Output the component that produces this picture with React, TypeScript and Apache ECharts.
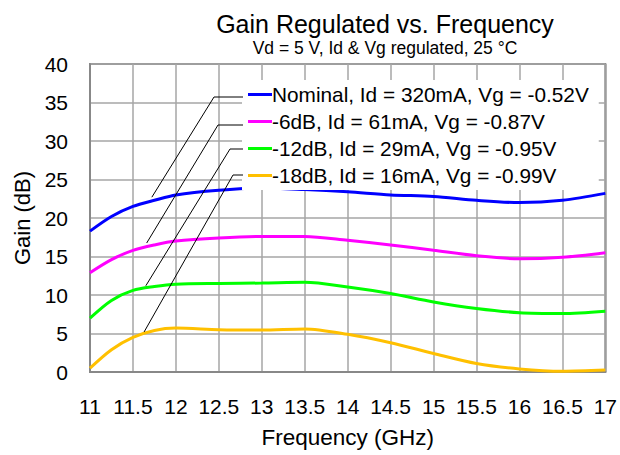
import React, { useEffect, useRef } from "react";
import * as echarts from "echarts";

const freqs = [11, 11.25, 11.5, 11.75, 12, 12.5, 13, 13.5, 14, 14.5, 15, 15.5, 16, 16.5, 17];
const nominal = [18.3, 20.2, 21.5, 22.3, 23.0, 23.6, 23.9, 23.7, 23.4, 23.0, 22.8, 22.3, 22.0, 22.3, 23.2];
const minus6 = [12.9, 14.6, 15.8, 16.5, 17.0, 17.4, 17.6, 17.6, 17.1, 16.5, 15.8, 15.1, 14.7, 14.9, 15.5];
const minus12 = [7.0, 9.3, 10.6, 11.1, 11.4, 11.5, 11.55, 11.65, 11.05, 10.2, 9.1, 8.25, 7.7, 7.6, 7.9];
const minus18 = [0.5, 2.9, 4.5, 5.4, 5.7, 5.5, 5.45, 5.6, 4.9, 3.8, 2.4, 1.1, 0.4, 0.1, 0.25];

const seriesNames = [
  "Nominal, Id = 320mA, Vg = -0.52V",
  "-6dB, Id = 61mA, Vg = -0.87V",
  "-12dB, Id = 29mA, Vg = -0.95V",
  "-18dB, Id = 16mA, Vg = -0.99V",
];
const seriesValues = [nominal, minus6, minus12, minus18];
const colors = ["#0000ff", "#ff00ff", "#00ff00", "#ffc000"];

// leader lines: anchor on curve (data coords) and bend / end points near legend (pixels)
const leaderAnchors = [
  [11.72, 22.7],
  [11.66, 16.75],
  [11.65, 11.2],
  [11.63, 5.2],
];
const leaderBends = [
  [[214, 97], [243, 97]],
  [[218, 125], [243, 125]],
  [[230, 149], [243, 149]],
  [[233, 175], [243, 175]],
];

const FONT = "'Liberation Sans', Arial, sans-serif";

export default function App() {
  const ref = useRef<HTMLDivElement>(null);
  useEffect(() => {
    document.body.style.margin = "0";
    if (!ref.current) return;
    const chart = echarts.init(ref.current, undefined, { renderer: "svg" });
    chart.setOption({
      animation: false,
      backgroundColor: "#fff",
      textStyle: { fontFamily: FONT },
      title: [
        {
          text: "Gain Regulated vs. Frequency",
          left: 380,
          top: 6,
          textAlign: "center",
          textStyle: { fontSize: 25, fontWeight: "normal", color: "#000", fontFamily: FONT },
        },
        {
          text: "Vd = 5 V, Id & Vg regulated, 25 °C",
          left: 380,
          top: 34,
          textAlign: "center",
          textStyle: { fontSize: 17.5, fontWeight: "normal", color: "#000", fontFamily: FONT },
        },
      ],
      grid: { left: 90, right: 13, top: 64, bottom: 83, show: true, borderColor: "#888", borderWidth: 2 },
      legend: {
        orient: "vertical",
        left: 242,
        top: 80,
        padding: [4, 10, 4, 6],
        backgroundColor: "#fff",
        itemWidth: 24,
        itemHeight: 3,
        itemGap: 6,
        icon: "rect",
        z: 10,
        textStyle: { fontSize: 20.8, lineHeight: 21, color: "#000", fontFamily: FONT, padding: [0, 0, 0, -5] },
        data: seriesNames,
      },
      xAxis: {
        type: "value",
        min: 11,
        max: 17,
        interval: 0.5,
        name: "Frequency (GHz)",
        nameLocation: "middle",
        nameGap: 54,
        nameTextStyle: { fontSize: 22.5, color: "#000", fontFamily: FONT },
        axisLine: { show: true, lineStyle: { color: "#888", width: 2 } },
        axisTick: { show: false },
        axisLabel: { fontSize: 21, color: "#000", margin: 24, fontFamily: FONT },
        splitLine: { show: true, lineStyle: { color: "#a6a6a6", width: 1.5 } },
      },
      yAxis: {
        type: "value",
        min: 0,
        max: 40,
        interval: 5,
        name: "Gain (dB)",
        nameLocation: "middle",
        nameGap: 57,
        nameTextStyle: { fontSize: 22, color: "#000", fontFamily: FONT },
        axisLine: { show: true, lineStyle: { color: "#888", width: 2 } },
        axisTick: { show: false },
        axisLabel: { fontSize: 21, color: "#000", margin: 22, fontFamily: FONT },
        splitLine: { show: true, lineStyle: { color: "#a6a6a6", width: 1.5 } },
      },
      series: seriesNames.map((name, i) => ({
        name,
        type: "line",
        data: freqs.map((f, j) => [f, seriesValues[i][j]]),
        smooth: 0.3,
        showSymbol: false,
        symbol: "none",
        lineStyle: { color: colors[i], width: 3 },
        itemStyle: { color: colors[i] },
        z: 3,
      })),
    });
    const graphics = leaderAnchors.map((a, i) => {
      const p = chart.convertToPixel({ gridIndex: 0 }, a) as number[];
      return {
        type: "polyline",
        z: 20,
        shape: { points: [p, ...leaderBends[i]] },
        style: { stroke: "#000", lineWidth: 1, fill: "none" },
      };
    });
    chart.setOption({ graphic: graphics });
    return () => chart.dispose();
  }, []);
  return <div ref={ref} style={{ width: 620, height: 455 }} />;
}
